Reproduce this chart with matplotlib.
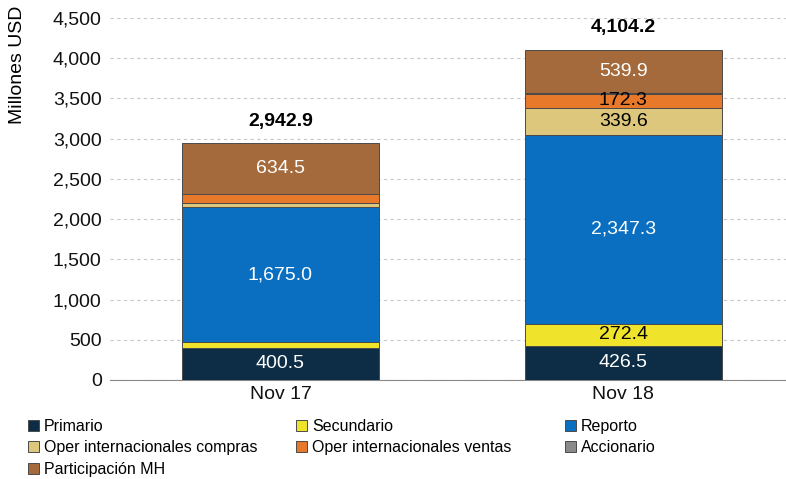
import matplotlib
matplotlib.use('Agg')
import matplotlib.pyplot as plt
import numpy as np
from matplotlib.ticker import FuncFormatter

plt.rcParams['font.family'] = ['Liberation Sans Narrow', 'Liberation Sans', 'DejaVu Sans']

categories = ['Nov 17', 'Nov 18']
series_names = ['Primario', 'Secundario', 'Reporto', 'Oper internacionales compras',
                'Oper internacionales ventas', 'Accionario', 'Participación MH']
primario = [400.5, 426.5]
secundario = [70.0, 272.4]
reporto = [1675.0, 2347.3]
oper_compras = [55.0, 339.6]
oper_ventas = [107.9, 172.3]
accionario = [0.0, 6.2]
participacion = [634.5, 539.9]
totals = [2942.9, 4104.2]

series = [primario, secundario, reporto, oper_compras, oper_ventas, accionario, participacion]
colors = ['#0c2d45', '#f0e32c', '#0a6fc0', '#dcc77c', '#e8782a', '#8a8a8a', '#a56a3b']
# which segments get a label, and its colour (None = no label)
label_colors = [
    ['white', 'white'],
    [None, 'black'],
    ['white', 'white'],
    [None, 'black'],
    [None, 'black'],
    [None, None],
    ['white', 'white'],
]

fig = plt.figure(figsize=(7.86, 4.79), dpi=100)
ax = fig.add_axes([110 / 786, 99 / 479, 676 / 786, 362 / 479])

x = np.arange(len(categories))
bottom = np.zeros(len(categories))
width = 0.574
for vals, col, lcols, name in zip(series, colors, label_colors, series_names):
    vals = np.array(vals)
    ax.bar(x, vals, width, bottom=bottom, color=col, edgecolor='#4a4a4a',
           linewidth=0.7, label=name, zorder=3)
    for i in range(len(x)):
        if lcols[i] is not None:
            ax.text(x[i], bottom[i] + vals[i] / 2, f'{vals[i]:,.1f}', ha='center',
                    va='center', color=lcols[i], fontsize=14, zorder=4)
    bottom = bottom + vals

for i in range(len(x)):
    ax.text(x[i], totals[i] + 170, f'{totals[i]:,.1f}', ha='center', va='bottom',
            fontsize=14, fontweight='bold', zorder=4)

ax.set_xlim(-0.497, 1.474)
ax.set_ylim(0, 4500)
ax.set_yticks(np.arange(0, 4501, 500))
ax.yaxis.set_major_formatter(FuncFormatter(lambda v, p: f'{v:,.0f}'))
ax.set_xticks(x)
ax.set_xticklabels(categories)
ax.tick_params(axis='both', length=0, labelsize=14, colors='#111111', pad=6)
ax.tick_params(axis='x', pad=4)
ax.grid(axis='y', color='#c8c8c8', linestyle=(0, (3, 3)), linewidth=0.8, zorder=0)
for s in ['left', 'right', 'top']:
    ax.spines[s].set_visible(False)
ax.spines['bottom'].set_color('#888888')

fig.text(18 / 786, 1 - 65 / 479, 'Millones USD', rotation=90, ha='center',
         va='center', fontsize=14)

# legend laid out row by row, three columns
handles, labels = ax.get_legend_handles_labels()
col_x = [28, 296, 565]
for c in range(3):
    idx = list(range(c, len(handles), 3))
    leg = fig.legend([handles[k] for k in idx], [labels[k] for k in idx],
                     loc='upper left', bbox_to_anchor=(col_x[c] / 786, 1 - 419 / 479),
                     frameon=False, fontsize=11.5, handlelength=0.7, handleheight=0.7,
                     handletextpad=0.3, labelspacing=0.4, borderpad=0, borderaxespad=0)

fig.savefig('out.png', dpi=100)
